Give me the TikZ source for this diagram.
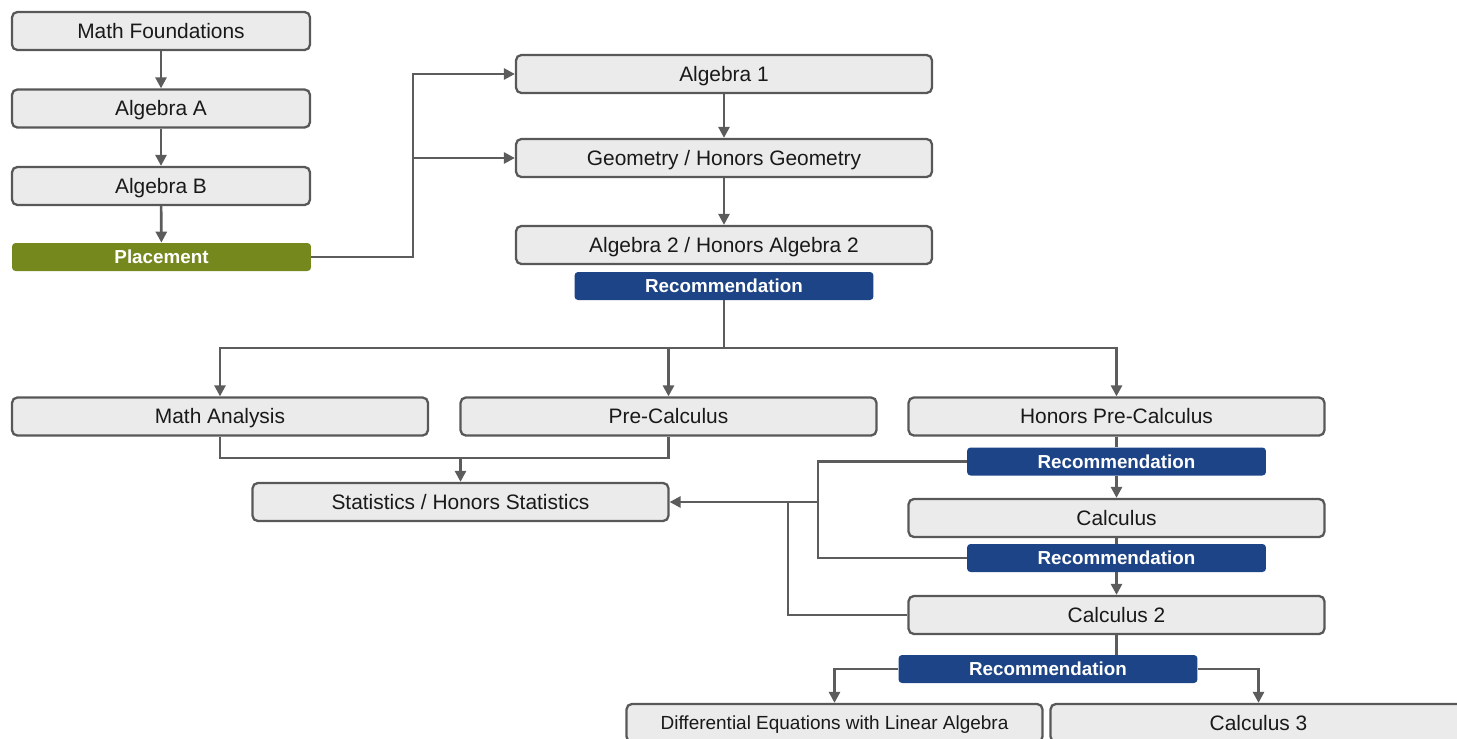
\documentclass[tikz,border=0pt]{standalone}
\usepackage{fontspec}
\setmainfont{Liberation Sans}
\usetikzlibrary{arrows.meta,positioning,calc}
\definecolor{boxfill}{RGB}{235,235,235}
\definecolor{boxline}{RGB}{88,88,88}
\definecolor{linkgray}{RGB}{92,92,92}
\definecolor{textdark}{RGB}{25,25,25}
\definecolor{recblue}{RGB}{29,68,134}
\definecolor{placegreen}{RGB}{116,136,30}
\newcommand{\coursefont}{\fontsize{11.9}{14}\selectfont}
\newcommand{\smallcourse}{\fontsize{10.8}{13}\selectfont}
\newcommand{\tagfont}{\fontsize{10.7}{13}\selectfont\bfseries}

\begin{document}
\begin{tikzpicture}[
        x=0.02cm, y=-0.02cm,
        course/.style={draw=boxline, fill=boxfill, rounded corners=3pt, line width=1.3pt, minimum width=8.32cm, minimum height=0.76cm, inner sep=0pt, text height=8.5pt, text depth=0pt, font=\coursefont, text=textdark},
        short/.style={course, minimum width=5.96cm},
        tag/.style={fill=recblue, rounded corners=2pt, minimum width=5.98cm, minimum height=0.56cm, inner sep=0pt, text height=7.7pt, text depth=0pt, font=\tagfont, text=white},
        link/.style={draw=linkgray, line width=1.5pt},
        arrow/.style={link, -{Triangle[length=2.2mm, width=2.2mm]}}
    ]
        \useasboundingbox (0,0) rectangle (1457,738);
        \clip (0,0) rectangle (1457,738);

        % Foundations column
        \node[short] (found) at (161,31) {Math Foundations};
        \node[short] (algA) at (161,108.5) {Algebra A};
        \node[short] (algB) at (161,186) {Algebra B};
        \node[tag, fill=placegreen] (place) at (161.5,257) {Placement};

        % Core sequence
        \node[course] (alg1) at (724,74) {Algebra 1};
        \node[course] (geo) at (724,158) {Geometry / Honors Geometry};
        \node[course] (alg2) at (724,245) {Algebra 2 / Honors Algebra 2};
        \node[tag] (rec1) at (724,286) {Recommendation};

        % Fourth year
        \node[course] (analysis) at (220,416.5) {Math Analysis};
        \node[course] (precalc) at (668.5,416.5) {Pre-Calculus};
        \node[course] (honpre) at (1116.5,416.5) {Honors Pre-Calculus};
        \node[course] (stats) at (460.5,502) {Statistics / Honors Statistics};

        % Calculus track
        \node[tag] (rec2) at (1116.5,461.5) {Recommendation};
        \node[course] (calc) at (1116.5,518) {Calculus};
        \node[tag] (rec3) at (1116.5,558) {Recommendation};
        \node[course] (calc2) at (1116.5,615) {Calculus 2};
        \node[tag] (rec4) at (1048,669) {Recommendation};
        \node[course, font=\smallcourse, text height=7.7pt] (diffeq) at (834.5,723) {Differential Equations with Linear Algebra};
        \node[course] (calc3) at (1258.5,723) {Calculus 3};

        % Junctions
        \coordinate (pj) at (413,257);
        \coordinate (rj) at (724,348);
        \coordinate (sj) at (460.5,458);
        \coordinate (lj) at (818,502);
        \coordinate (lk) at (788,502);

        % Arrows
        \draw[arrow] (found) -- (algA);
        \draw[arrow] (algA) -- (algB);
        \draw[arrow] (algB) -- (place);
        \draw[arrow] (place.east) -- (pj) |- (alg1.west);
        \draw[arrow] (pj |- geo.west) -- (geo.west);
        \draw[arrow] (alg1) -- (geo);
        \draw[arrow] (geo) -- (alg2);
        \draw[link] (rec1.south) -- (rj);
        \draw[arrow] (rj) -| (analysis.north);
        \draw[arrow] (rj) -| (precalc.north);
        \draw[arrow] (rj) -| (honpre.north);
        \draw[link] (analysis.south) |- (sj) -| (precalc.south);
        \draw[arrow] (sj) -- (stats.north);
        \draw[link] (honpre) -- (rec2);
        \draw[arrow] (rec2) -- (calc);
        \draw[link] (calc) -- (rec3);
        \draw[arrow] (rec3) -- (calc2);
        \draw[link] (rec2.west) -| (lj) |- (rec3.west);
        \draw[arrow] (lj) -- (stats.east);
        \draw[link] (calc2.west) -| (lk);
        \draw[link] (calc2.south) -- (calc2.south |- rec4.north);
        \draw[arrow] (rec4.west) -| (diffeq.north);
        \draw[arrow] (rec4.east) -| (calc3.north);

    \end{tikzpicture}
\end{document}
